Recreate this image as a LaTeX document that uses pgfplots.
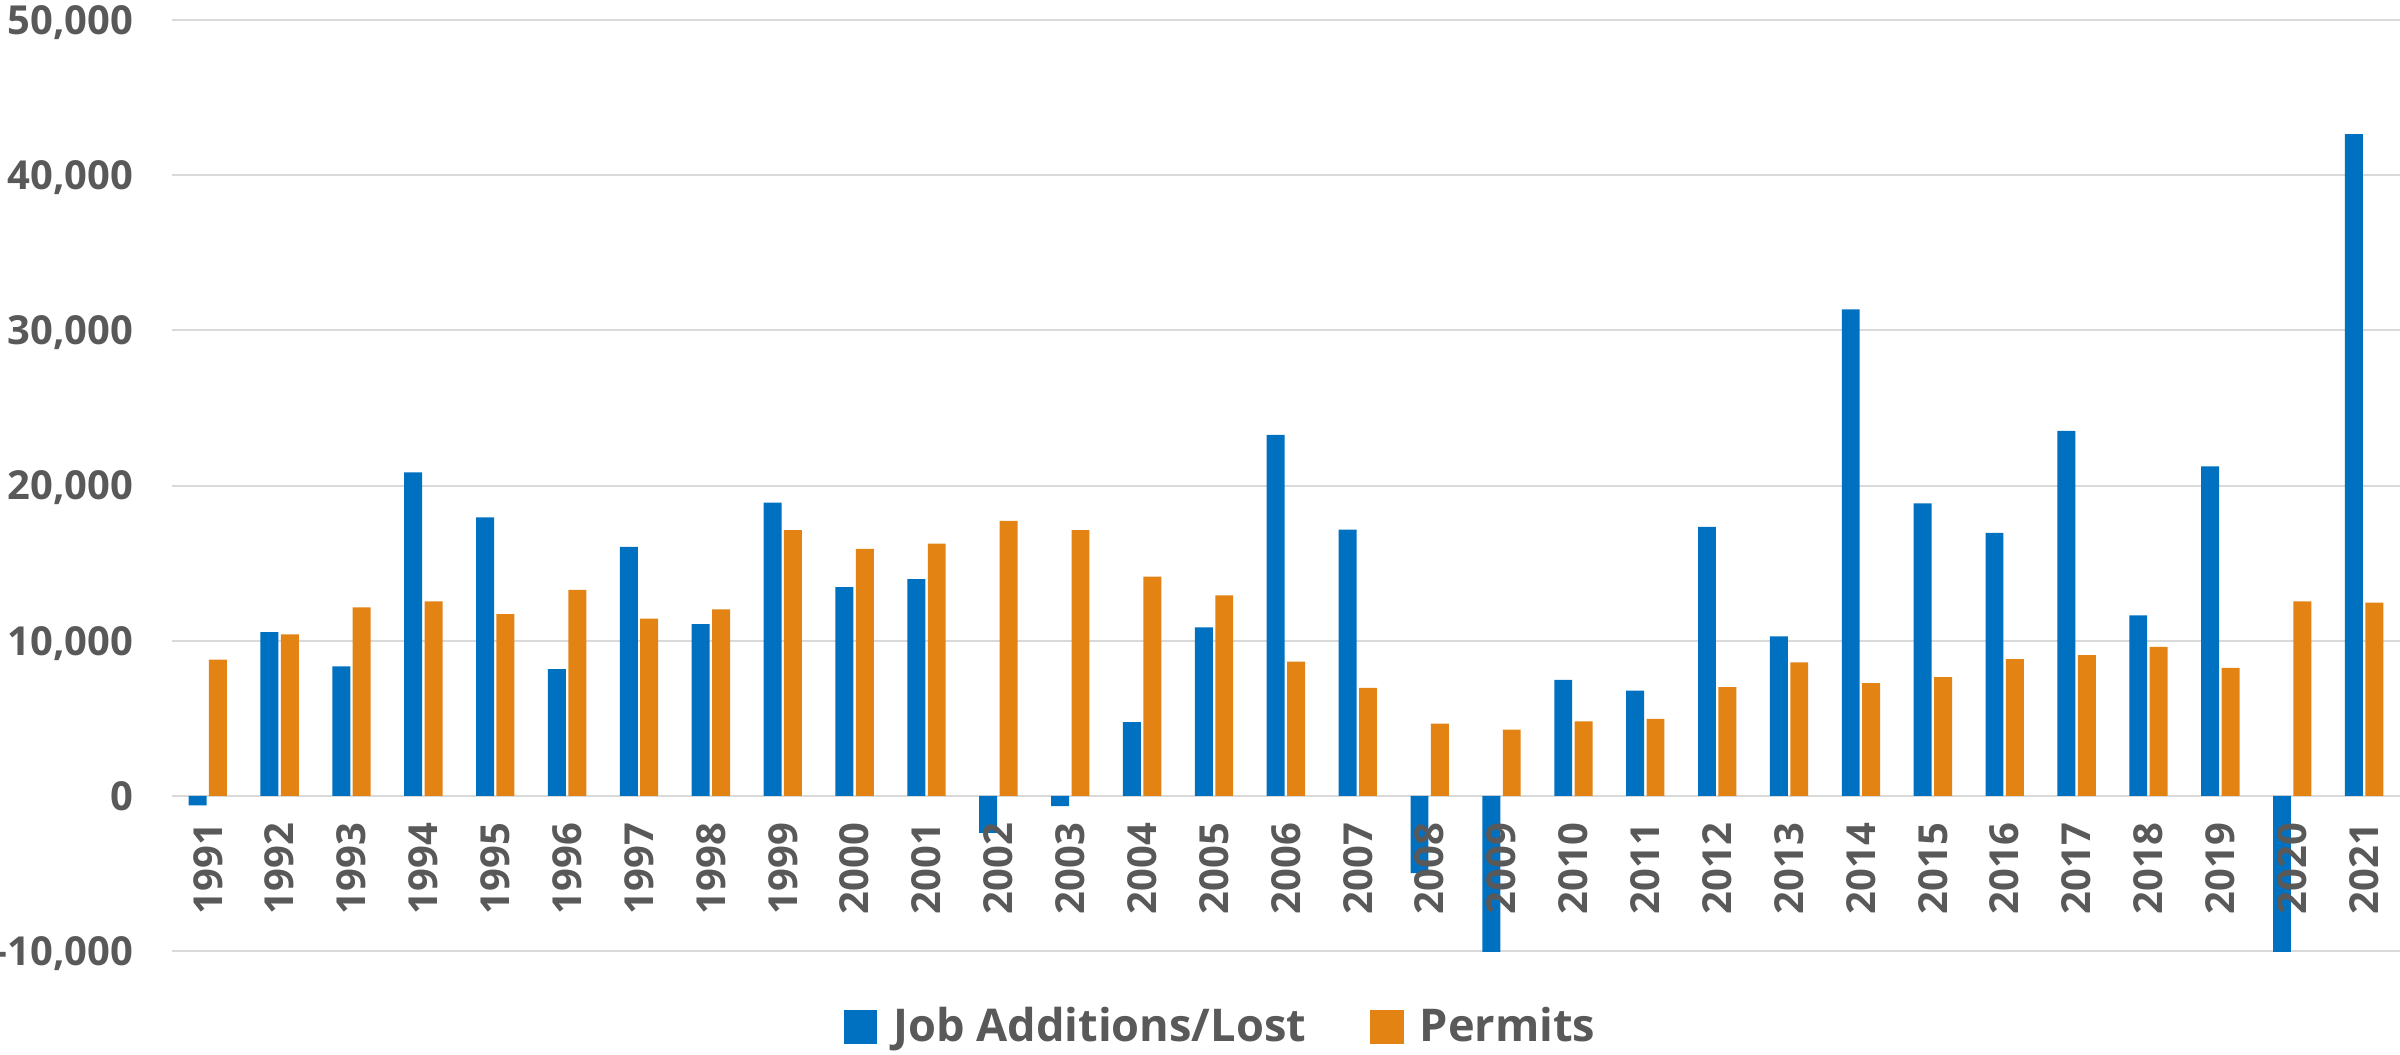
\documentclass[border=0pt]{standalone}
\usepackage{fontspec}
\setmainfont{Open Sans}
\usepackage{pgfplots}
\pgfplotsset{compat=1.18}

\definecolor{jobblue}{HTML}{0070C0}
\definecolor{permorange}{HTML}{E38313}
\definecolor{labgray}{HTML}{595959}
\definecolor{gridgray}{HTML}{D9D9D9}

% tick labels above the bars, grid below
\pgfplotsset{
  layers/labels on top/.define layer set={
    axis background,axis grid,axis ticks,axis lines,main,axis tick labels,axis descriptions,axis foreground
  }{
    grid style={/pgfplots/on layer=axis grid},
    tick style={/pgfplots/on layer=axis ticks},
    axis line style={/pgfplots/on layer=axis lines},
    label style={/pgfplots/on layer=axis descriptions},
    legend style={/pgfplots/on layer=axis descriptions},
    ticklabel style={/pgfplots/on layer=axis tick labels},
  },
}

% year index 0 = 1991 ... 30 = 2021
\pgfplotstableread{
idx jobs permits
0   -600   8780
1   10550  10420
2   8350   12150
3   20850  12540
4   17950  11720
5   8170   13280
6   16050  11420
7   11070  12020
8   18900  17130
9   13450  15920
10  13970  16260
11  -2380  17730
12  -650   17130
13  4760   14140
14  10860  12930
15  23270  8650
16  17170  6960
17  -4970  4670
18  -10080 4280
19  7480   4800
20  6790   4970
21  17340  7010
22  10290  8610
23  31360  7270
24  18860  7660
25  16960  8820
26  23530  9080
27  11630  9600
28  21240  8260
29  -10080 12540
30  42650  12460
}\datatable

\begin{document}
\begin{tikzpicture}
\begin{axis}[
  set layers=labels on top,
  scale only axis,
  width=557.5pt, height=233pt,
  ybar=0.6pt, bar width=4.5pt,
  xmin=-0.5, xmax=30.5,
  ymin=-10000, ymax=50000,
  scaled y ticks=false,
  xtick={0,...,30},
  xticklabels={1991,1992,1993,1994,1995,1996,1997,1998,1999,2000,2001,2002,2003,2004,2005,2006,2007,2008,2009,2010,2011,2012,2013,2014,2015,2016,2017,2018,2019,2020,2021},
  ytick={-10000,0,10000,20000,30000,40000,50000},
  yticklabels={{-10,000},{0},{10,000},{20,000},{30,000},{40,000},{50,000}},
  ymajorgrids,
  grid style={gridgray, line width=0.5pt},
  axis line style={draw=none},
  major tick length=0pt,
  tick style={draw=none},
  ticklabel style={font=\fontsize{10}{12}\selectfont\bfseries, text=labgray},
  yticklabel style={inner sep=0pt, anchor=base east, xshift=-9.5pt, yshift=-3.6pt},
  xticklabel style={inner sep=0pt, yshift=32.25pt, rotate=90, anchor=east},
  legend columns=2,
  legend style={at={(0.472,-0.0815)}, anchor=center, draw=none, fill=none,
    font=\fontsize{11.3}{13}\selectfont\bfseries, text=labgray,
    /tikz/every odd column/.append style={column sep=2pt},
    /tikz/every even column/.append style={column sep=14pt}},
  legend image code/.code={\fill (0pt,-4.2pt) rectangle (8.4pt,4.2pt);},
]
\addplot[fill=jobblue, draw=none] table[x=idx, y=jobs] {\datatable};
\addplot[fill=permorange, draw=none] table[x=idx, y=permits] {\datatable};
\legend{Job Additions/Lost, Permits}
\end{axis}
\pgfresetboundingbox
\path[use as bounding box] ([xshift=-43pt,yshift=-25.75pt]current axis.south west) rectangle ([yshift=5pt]current axis.north east);
\end{tikzpicture}
\end{document}
